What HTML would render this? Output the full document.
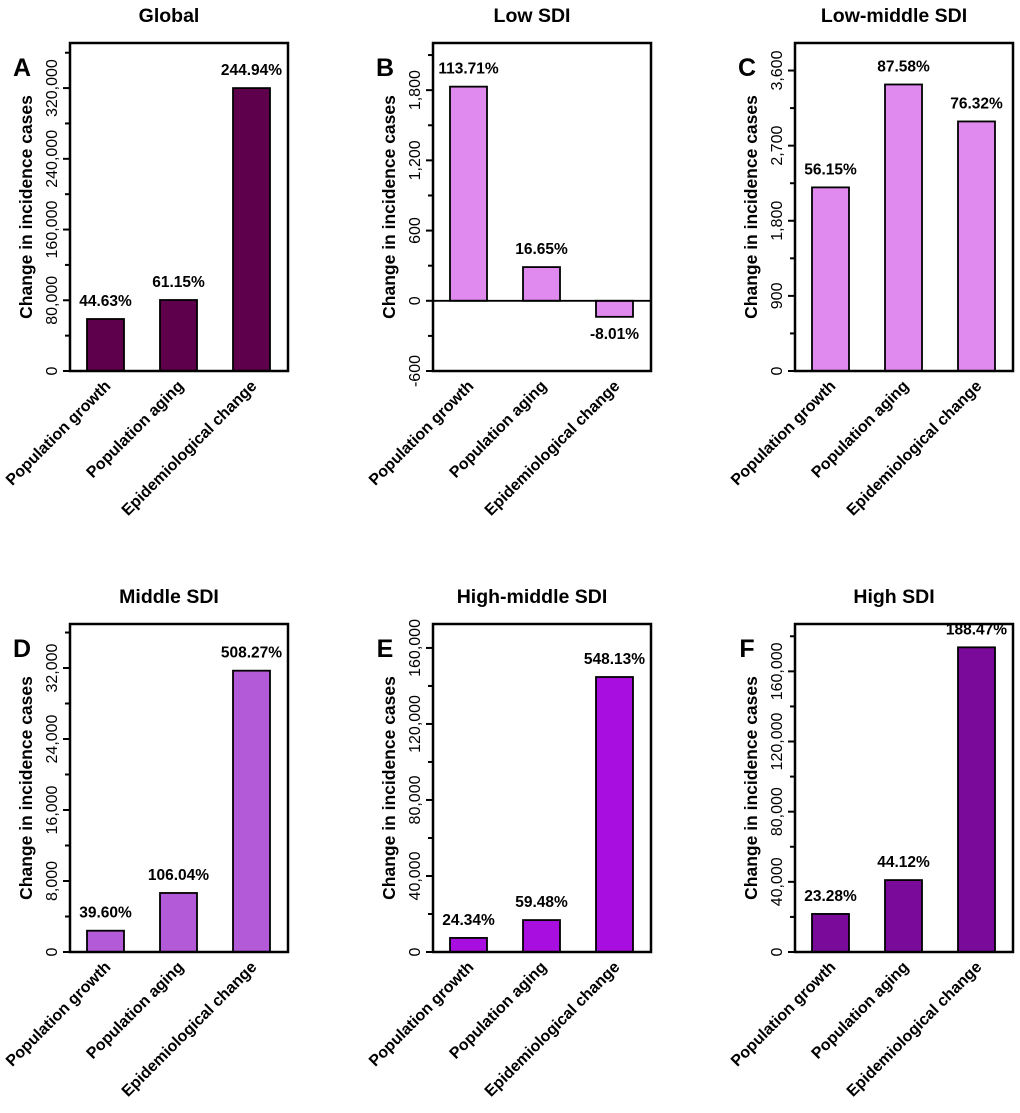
<!DOCTYPE html>
<html><head><meta charset="utf-8"><style>
body{margin:0;background:#fff}
svg{display:block;font-family:"Liberation Sans",Arial,sans-serif;font-weight:bold}
</style></head><body>
<svg id="fig" width="1020" height="1113" viewBox="0 0 1020 1113"></svg>
<script>
const categories = ["Population growth","Population aging","Epidemiological change"];
const titles = ["Global","Low SDI","Low-middle SDI","Middle SDI","High-middle SDI","High SDI"];
const letters = ["A","B","C","D","E","F"];
const valsA = [58800, 80300, 320000];
const valsB = [1830, 288, -137];
const valsC = [2200, 3433, 2990];
const valsD = [2400, 6650, 31700];
const valsE = [7400, 16800, 144700];
const valsF = [21700, 41000, 173700];
const pctA = ["44.63%","61.15%","244.94%"];
const pctB = ["113.71%","16.65%","-8.01%"];
const pctC = ["56.15%","87.58%","76.32%"];
const pctD = ["39.60%","106.04%","508.27%"];
const pctE = ["24.34%","59.48%","548.13%"];
const pctF = ["23.28%","44.12%","188.47%"];
const ticksA = [0,80000,160000,240000,320000];
const ticksB = [-600,0,600,1200,1800];
const ticksC = [0,900,1800,2700,3600];
const ticksD = [0,8000,16000,24000,32000];
const ticksE = [0,40000,80000,120000,160000];
const ticksF = [0,40000,80000,120000,160000];
const domains = [[0,371000],[-600,2203],[0,3930],[0,36960],[0,172600],[0,187000]];
const colors = ["#5e004b","#e08af0","#e08af0","#b35ad8","#a90ee0","#7a0a9a"];
const allVals=[valsA,valsB,valsC,valsD,valsE,valsF];
const allPct=[pctA,pctB,pctC,pctD,pctE,pctF];
const allTicks=[ticksA,ticksB,ticksC,ticksD,ticksE,ticksF];
const NS="http://www.w3.org/2000/svg";
const svg=document.getElementById('fig');
function mk(tag,attrs,parent,text){const e=document.createElementNS(NS,tag);for(const k in attrs)e.setAttribute(k,attrs[k]);if(text!==undefined)e.textContent=text;(parent||svg).appendChild(e);return e;}
const colX=[70,433,795], rowY=[43,624], W=218, H=328;
const fmt=v=>v.toLocaleString('en-US');
for(let p=0;p<6;p++){
  const x0=colX[p%3], y0=rowY[Math.floor(p/3)];
  const g=mk('g',{});
  
  
  const [d0,d1]=domains[p];
  const y=v=>y0+H-(v-d0)/(d1-d0)*H;
  const xc=i=>x0+35.5+i*73;
  const t=mk('text',{x:x0+W/2-10,y:y0-21,'text-anchor':'middle','font-size':19.5},g,titles[p]);
  
  
  const l=mk('text',{x:x0-48,y:y0+33,'text-anchor':'middle','font-size':25},g,letters[p]);
  
  
  const at=mk('text',{transform:`translate(${x0-38},${y0+H/2}) rotate(-90)`,'text-anchor':'middle','font-size':17.5},g,'Change in incidence cases');
  
  
  const ticks=allTicks[p], step=ticks[1]-ticks[0];
  for(let v=ticks[0];v<=d1;v+=step/2){
    const yy=y(v), major=((v-ticks[0])%step)===0;
    mk('line',{x1:x0-(major?7:5),x2:x0,y1:yy,y2:yy,stroke:'#000','stroke-width':2},g);
  }
  ticks.forEach(v=>{
    const tl=mk('text',{transform:`translate(${x0-13},${y(v)}) rotate(-90)`,'text-anchor':'middle','font-size':16,'font-weight':'normal'},g,fmt(v));
    
    
  });
  allVals[p].forEach((v,i)=>{
    const top=Math.min(y(v),y(0)), h=Math.abs(y(v)-y(0));
    const b=mk('rect',{x:xc(i)-18.5,y:top,width:37,height:h,fill:colors[p],stroke:'#000','stroke-width':1.8},g);
    
    
    const ly = v>=0 ? y(v)-13 : y(v)+22;
    const lb=mk('text',{x:xc(i),y:ly,'text-anchor':'middle','font-size':15.5},g,allPct[p][i]);
    
    
  });
  if(d0<0){mk('line',{x1:x0,x2:x0+W,y1:y(0),y2:y(0),stroke:'#000','stroke-width':1.8},g);}
  mk('rect',{x:x0,y:y0,width:W,height:H,fill:'none',stroke:'#000','stroke-width':2.5},g);
  categories.forEach((c,i)=>{
    const xl=mk('text',{transform:`translate(${xc(i)+6},${y0+H+16}) rotate(-45)`,'text-anchor':'end','font-size':16},g,c);
    
    
  });
}
</script>
</body></html>
